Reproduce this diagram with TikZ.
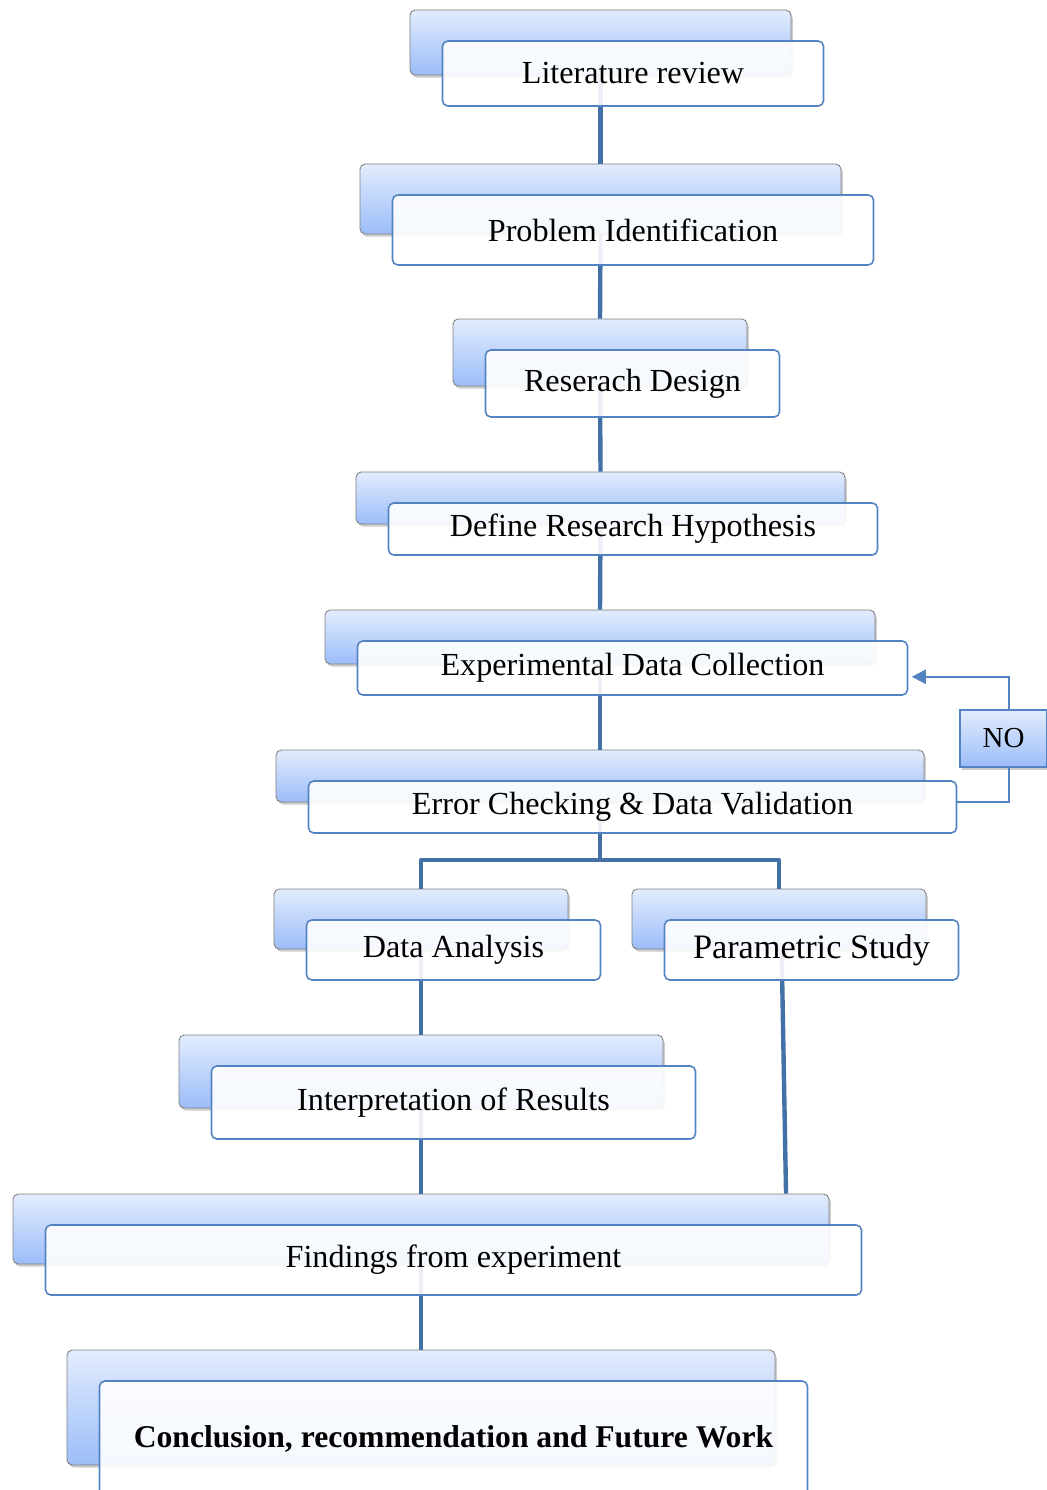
\documentclass[tikz,border=0pt]{standalone}
\usepackage{fontspec}
\setmainfont{Liberation Serif}
\usetikzlibrary{arrows.meta,shadows}

\definecolor{tabtop}{RGB}{226,236,253}
\definecolor{tabbot}{RGB}{156,189,249}
\definecolor{edgeblue}{RGB}{84,131,194}
\definecolor{linkblue}{RGB}{68,112,168}

\tikzset{
  tab/.style={rectangle,rounded corners=3pt,draw=gray,line width=0.5pt,
    top color=tabtop,bottom color=tabbot,inner sep=0pt,
    drop shadow={shadow xshift=1pt,shadow yshift=-1.5pt,opacity=0.4}},
  card/.style={rectangle,rounded corners=3pt,draw=edgeblue,line width=0.9pt,
    fill=white,fill opacity=0.9,text opacity=1,inner sep=0pt,align=center,
    font=\fontsize{18.3}{22}\selectfont},
  link/.style={draw=linkblue,line width=2.5pt},
  retry/.style={draw=edgeblue,line width=1.3pt},
}

\begin{document}
\begin{tikzpicture}[x=0.02cm,y=-0.02cm]
  \useasboundingbox (0,0) rectangle (1047,1490);
  % back tabs
  \foreach \n/\x/\y/\w/\h in {lit/600.5/42.5/381/65,prob/600.5/199/481/70,
      des/600/352.5/294/67,hyp/600.5/498/489/52,coll/600/637/550/54,
      val/600/776/648/52,ana/421/919/294/60,par/779/919/294/60,
      intp/421/1071.5/484/73,find/421/1229/816/70,conc/421/1407.5/708/115}{
    \node[tab,minimum width=\w*0.02cm,minimum height=\h*0.02cm] (\n) at (\x,\y) {};}
  % connectors
  \foreach \a/\b in {lit/prob,prob/des,des/hyp,hyp/coll,coll/val,
      ana/intp,intp/find,find/conc}{
    \draw[link] (\a.south) -- (\b.north);}
  \coordinate (split) at (600,860);
  \draw[link] (val.south) -- (split);
  \draw[link,line join=round] (ana.north) |- (split) -| (par.north);
  \draw[link] ([xshift=1.5pt]par.south) -- ([xshift=4pt]par.south |- find.north);
  % front cards
  \foreach \n/\x/\y/\w/\h/\t in {lit/600.5/42.5/381/65/{Literature review},
      prob/600.5/199/481/70/{Problem Identification},
      des/600/352.5/294/67/{Reserach Design},
      hyp/600.5/498/489/52/{Define Research Hypothesis},
      coll/600/637/550/54/{Experimental Data Collection},
      val/600/776/648/52/{Error Checking \& Data Validation},
      ana/421/919/294/60/{Data Analysis},
      par/779/919/294/60/{\fontsize{19.5}{23}\selectfont Parametric Study},
      intp/421/1071.5/484/73/{Interpretation of Results},
      find/421/1229/816/70/{Findings from experiment},
      conc/421/1407.5/708/115/{\bfseries\fontsize{18}{22}\selectfont Conclusion, recommendation and Future Work}}{
    \node[card,minimum width=\w*0.02cm,minimum height=\h*0.02cm]
      (\n-f) at ({\x+32.5},{\y+31}) {\t};}
  % validation loop
  \node[rectangle,draw=edgeblue,line width=0.9pt,top color=tabtop,bottom color=tabbot,
    drop shadow={shadow xshift=1pt,shadow yshift=-1.5pt,opacity=0.4},
    minimum width=87*0.02cm,minimum height=57*0.02cm,inner sep=0pt,
    font=\fontsize{16.5}{20}\selectfont] (no) at (1003.5,738.5) {NO};
  \draw[retry,-{Triangle[length=8pt,width=8pt]},shorten >=2pt]
    ([xshift=3pt]no.north) |- ([yshift=-5pt]coll-f.east);
  \draw[retry] ([xshift=3pt]no.south) |- ([yshift=3pt]val-f.east);
\end{tikzpicture}
\end{document}
